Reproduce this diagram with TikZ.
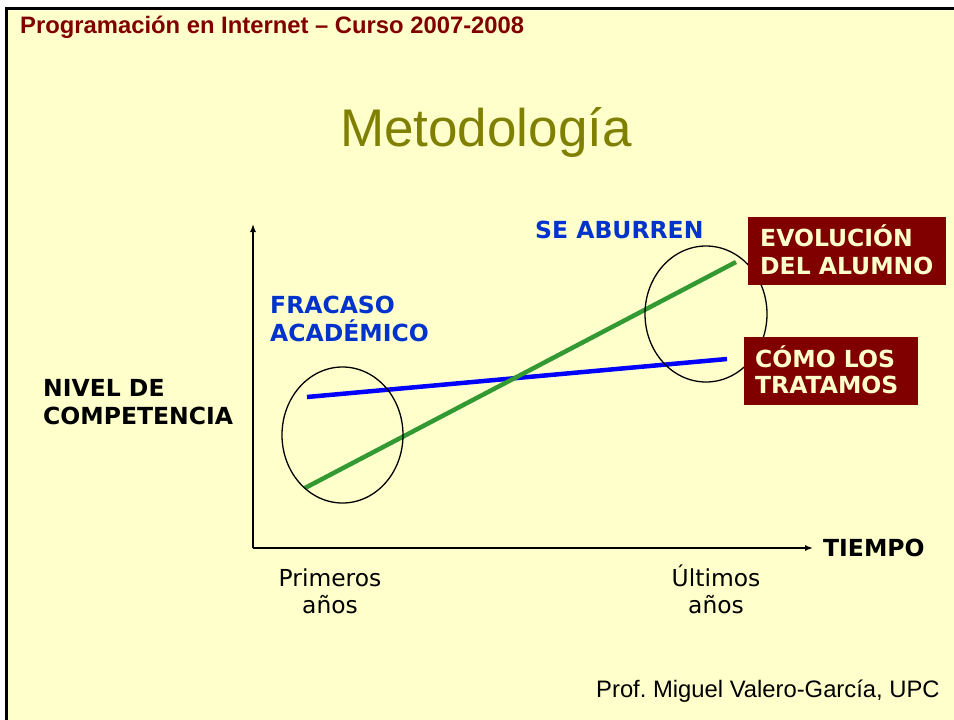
\documentclass[tikz,border=0pt]{standalone}
\usepackage{fontspec}
\setmainfont{Liberation Sans}
\newfontfamily\dvs{DejaVu Sans}
\usetikzlibrary{arrows.meta,shapes.geometric}
\definecolor{bgyellow}{HTML}{FFFFCC}
\definecolor{hdrred}{HTML}{800000}
\definecolor{olivet}{HTML}{808000}
\definecolor{txtblue}{HTML}{0033CC}
\definecolor{lgreen}{HTML}{339933}
\begin{document}
\frenchspacing
\begin{tikzpicture}[x=1pt,y=-1pt,
  axis/.style={line width=1.4pt,-{Latex[length=8pt,width=6pt]}},
  ring/.style={draw=black,line width=1.3pt},
  lbl/.style={inner sep=0pt,anchor=base west,font=\dvs\bfseries\fontsize{23.5}{28}\selectfont},
  plain/.style={inner sep=0pt,anchor=base,font=\dvs\fontsize{23.4}{28}\selectfont},
  redbox/.style={fill=hdrred,draw=none,inner sep=0pt,anchor=north west},
  boxtext/.style={lbl,text=bgyellow}]
\useasboundingbox (0,0) rectangle (954,720);
\fill[white] (0,0) rectangle (954,720);
\fill[bgyellow] (6.5,8) rectangle (954,720);
\draw[line width=3pt] (6.5,720) -- (6.5,8) -- (954,8);
% header and title
\node[inner sep=0pt,anchor=base west,text=hdrred,font=\bfseries\fontsize{23.8}{28}\selectfont] (hdr) at (20,33) {Programación en Internet – Curso 2007-2008};
\node[inner sep=0pt,anchor=base,text=olivet,font=\fontsize{53}{60}\selectfont] (title) at (486,146) {Metodología};
% axes
\coordinate (o) at (253,548);
\coordinate (ytop) at (253,224);
\coordinate (xend) at (813,548);
\draw[axis] (o) -- (ytop);
\draw[axis] (o) -- (xend);
% lines
\coordinate (b1) at (307,397);
\coordinate (b2) at (727,359);
\coordinate (g1) at (305,488);
\coordinate (g2) at (736,262);
\draw[blue,line width=4.5pt] (b1) -- (b2);
\draw[lgreen,line width=4.5pt] (g1) -- (g2);
% ellipses
\node[ring,ellipse,minimum width=121pt,minimum height=136pt,inner sep=0pt] (e1) at (342.5,435) {};
\node[ring,ellipse,minimum width=122pt,minimum height=136pt,inner sep=0pt] (e2) at (706,314) {};
% labels
\node[lbl,text=txtblue] (abur) at (535,238) {SE ABURREN};
\node[lbl,text=txtblue] (frac1) at (270,313) {FRACASO};
\node[lbl,text=txtblue] (frac2) at (270,341) {ACADÉMICO};
\node[lbl] (nivel1) at (43,396) {NIVEL DE};
\node[lbl] (nivel2) at (43,424) {COMPETENCIA};
\node[lbl] (tiempo) at (823,556) {TIEMPO};
\node[plain] (prim1) at (330,586) {Primeros};
\node[plain] (prim2) at (330,613) {años};
\node[plain] (ult1) at (716,586) {Últimos};
\node[plain] (ult2) at (716,613) {años};
% boxes
\node[redbox,minimum width=198pt,minimum height=68pt] (evobox) at (748,217) {};
\node[boxtext] (evo1) at (760,246) {EVOLUCIÓN};
\node[boxtext] (evo2) at (760,274) {DEL ALUMNO};
\node[redbox,minimum width=174pt,minimum height=68pt] (comobox) at (744,337) {};
\node[boxtext] (como1) at (755,367) {CÓMO LOS};
\node[boxtext] (como2) at (755,393) {TRATAMOS};
% footer
\node[inner sep=0pt,anchor=base west,font=\fontsize{23.8}{28}\selectfont] (prof) at (596,697) {Prof. Miguel Valero-García, UPC};
\end{tikzpicture}
\end{document}
